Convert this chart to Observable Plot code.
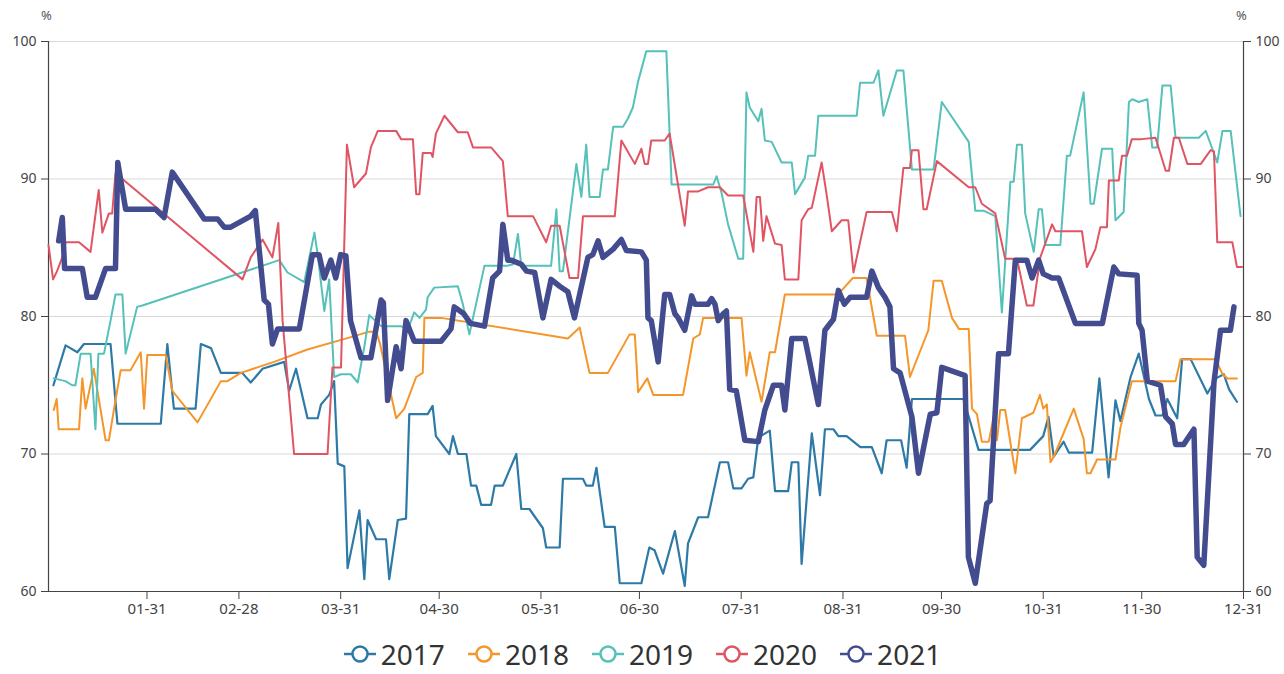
<!DOCTYPE html>
<html>
<head>
<meta charset="utf-8">
<script src="https://cdn.jsdelivr.net/npm/d3@7"></script>
<script src="https://cdn.jsdelivr.net/npm/@observablehq/plot@0.6"></script>
<style>
  html, body { margin: 0; padding: 0; background: #fff; }
  #wrap { position: relative; width: 1284px; height: 674px; font-family: "Noto Sans", "Open Sans", sans-serif; }
  .unit { position: absolute; top: 6px; font-size: 13px; color: #555; }
  #legend { position: absolute; left: 0; top: 635px; width: 1284px; height: 38px; display: flex; justify-content: center; align-items: center; gap: 22px; }
  .item { display: flex; align-items: center; gap: 4px; font-size: 28px; color: #333; line-height: 38px; height: 38px; }
  .item span { display: inline-block; line-height: 38px; }
</style>
</head>
<body>
<div id="wrap">
  <div class="unit" style="left:41px">%</div>
  <div class="unit" style="left:1236px">%</div>
  <div id="chart"></div>
  <div id="legend"></div>
</div>
<script>
// ---- data (day of year offset from Jan 1, value in %) ----
const years = ["2017", "2018", "2019", "2020", "2021"];
const colors = ["#2e7aa6", "#f5962a", "#56c1b9", "#e05564", "#434c8f"];
const tickLabels = ["01-31","02-28","03-31","04-30","05-31","06-30","07-31","08-31","09-30","10-31","11-30","12-31"];
const yTicks = [60, 70, 80, 90, 100];

const days2017 = [1.5,5.2,8.8,10.8,18.9,21,34.2,36.2,38.2,44.8,46.4,49.5,52.5,59,61.6,65.2,71.8,73.3,75.4,78.9,82,83,85.5,87,88.1,90.1,91.1,94.7,96.2,97.2,99.8,102.8,103.8,106.4,108.9,109.9,115.5,117,118,122.1,123.2,124.7,127.3,128.7,130.3,131.8,134.8,135.9,138.4,142.5,144,146.5,150.6,151.6,155.7,156.7,162.8,163.8,165.8,166.9,169.4,172.5,174,180.6,183,184.6,187.2,190.8,193.8,194.8,197.9,200.9,204.5,207,208.6,211.1,213.1,214.7,216.2,219.7,221.3,225.3,226.4,228.4,229.4,232.5,235,236.5,239.1,240.6,243.1,247.3,250.8,253.8,255.3,259.7,261.4,263,278.7,283.3,299,303,304.6,306.2,309.2,310.8,317.9,320.1,322.9,325,326.5,329.6,332.1,335.2,337.2,339.3,340.8,343.8,345.3,347.9,353,355.6,358,359.6,362];
const values2017 = [75.0,77.9,77.4,78.0,78.0,72.2,72.2,78.0,73.3,73.3,78.0,77.7,75.9,75.9,75.2,76.2,76.7,74.6,76.2,72.6,72.6,73.6,74.3,75.3,69.3,69.1,61.7,65.9,60.9,65.2,63.8,63.8,60.9,65.2,65.3,72.9,72.9,73.5,71.3,70.0,71.3,70.0,70.0,67.7,67.7,66.3,66.3,67.7,67.7,70.0,66.0,66.0,64.6,63.2,63.2,68.2,68.2,67.7,67.7,69.0,64.7,64.7,60.6,60.6,63.2,63.0,61.3,64.4,60.4,63.5,65.4,65.4,69.4,69.4,67.5,67.5,68.2,68.3,71.2,71.7,67.3,67.3,69.4,69.4,62.0,71.5,67.0,71.8,71.8,71.3,71.3,70.5,70.5,68.6,71.0,71.0,69.0,74.0,74.0,70.3,70.3,71.3,72.7,69.8,70.9,70.1,70.1,75.5,68.3,73.9,72.4,75.6,77.3,74.0,72.8,72.8,74.0,72.6,76.9,76.9,74.4,75.5,75.8,74.7,73.8];

const days2018 = [1.6,2.5,3.1,9.3,10.3,11.3,13.8,17.4,18.4,20.4,22,25,28.1,29.1,30.1,35.7,37.7,45.4,52.5,54.5,58.6,68.7,78.9,92.1,97.7,99.8,101,105.9,108.4,112,114,114.5,119.6,158.2,161.8,164.8,170.4,177,178.6,179.6,182.4,184.2,193.3,196.4,198.4,199.4,211.1,212.6,213.6,217.2,219.7,221.3,224.3,239.6,241.6,245,249.2,252.3,260.9,262.4,268,269.6,272.1,275.2,277.3,280.3,281.3,282.8,284.3,286.4,287.9,288.9,289.9,291.4,294.5,296.5,300,302,303,304.1,305.2,306.2,312.3,315.3,316.3,317.4,319.4,325,326.5,330,343.3,344.8,355.5,357.6,359.1,362];
const values2018 = [73.2,74.0,71.8,71.8,75.5,73.3,76.2,71.0,71.0,73.9,76.1,76.1,77.4,73.3,77.2,77.2,74.6,72.3,75.3,75.3,75.9,76.7,77.6,78.5,78.9,78.9,78.0,72.6,73.3,75.6,75.9,79.9,79.9,78.4,79.2,75.9,75.9,78.7,78.7,74.5,75.5,74.3,74.3,78.4,78.7,79.9,79.9,75.7,77.4,73.8,77.4,77.4,81.6,81.6,81.9,82.8,82.8,78.6,78.6,75.6,79.0,82.6,82.6,79.9,79.1,79.1,73.3,72.9,70.9,70.9,72.7,71.0,73.2,73.2,68.6,72.6,73.0,74.3,73.3,73.6,69.4,69.8,73.3,71.1,68.6,68.6,69.6,69.6,71.9,75.3,75.3,76.9,76.9,75.8,75.5,75.5];

const days2019 = [1.6,5.2,7.2,8.2,9.8,12.8,14.3,15.2,16.9,18.9,20.4,22.5,23.5,27,28.6,70.3,72.8,77.9,81,82,84,85.5,87,89.1,92.1,94.2,96.2,97.7,101.3,107.4,109.4,111.4,113,115,115.5,117.5,124.7,126.2,128.2,132.8,139.9,141.5,143,144,153.1,154.7,155.7,156.7,160.8,162.3,163.8,164.8,167.9,168.9,170.4,172,175,176.5,178,179.6,182.1,188.2,189.8,202.5,203.5,205,207,210.1,211.6,212.6,213.6,216.2,217.2,218.2,220.3,223.3,226.4,227.4,230.4,231.4,233.5,234.5,246.2,247.2,251.3,252.8,254.3,258.4,260.4,263,269.6,272.1,280.3,282.3,284.8,288.4,290.4,293,294,295,296.5,297.5,300.1,301.6,302.6,303.6,308.2,310.2,311.2,315.3,317.4,318.4,320.9,324,325,327.5,329.1,330.1,332.1,334.7,336.2,337.7,339.3,341.8,343.3,350.4,352.5,354.5,356,357.6,360.1,363.1];
const values2019 = [75.5,75.3,75.0,75.0,77.3,77.3,71.8,77.3,77.3,79.7,81.6,81.6,77.3,80.7,80.8,84.1,83.2,82.5,86.1,84.5,80.4,82.7,75.6,75.8,75.8,75.2,77.8,80.1,79.3,79.3,79.0,80.3,79.9,80.5,81.4,82.1,82.2,80.9,78.7,83.7,83.7,83.8,86.0,83.7,83.7,87.8,83.3,83.3,91.1,88.7,92.5,88.7,88.7,90.7,90.7,93.8,93.8,94.4,95.2,97.1,99.3,99.3,89.6,89.6,90.2,89.0,86.7,84.2,84.2,96.3,95.2,94.2,95.1,92.8,92.7,91.2,91.2,88.9,90.1,91.7,91.7,94.6,94.6,97.0,97.0,97.9,94.6,97.9,97.9,90.7,90.7,95.6,92.7,87.7,87.7,87.3,80.3,89.8,89.8,92.5,92.5,87.5,84.7,87.8,87.8,85.2,85.2,91.7,91.7,96.3,88.2,88.2,92.2,92.2,87.0,87.6,95.6,95.8,95.6,95.8,92.3,92.3,96.8,96.8,93.0,93.0,93.5,92.2,91.2,93.5,93.5,87.3];

const days2020 = [0,1.4,2.6,4.2,5.2,9.3,12.8,15.3,16.4,18.4,19.4,20.4,22.5,59.1,61.6,65.2,68.2,70,71.3,74.8,85,86.5,89.1,90.9,93.1,96.7,98.2,100.3,105.9,107.4,111,112,113,114,116.5,117,118,120.6,124.7,127.7,129.3,134.8,138.4,139.9,147.6,151.6,153.1,155.7,158.7,161.3,162.8,172.5,174.5,178.6,180.6,181.6,182.6,183.6,187.7,189.2,193.8,194.8,197.9,200.9,204.5,207,211.6,214.7,215.7,216.7,217.7,218.7,221.3,223.3,224.3,228.4,229.4,231.4,232.5,235.5,237,238.6,241.6,243.6,245.2,249.2,256.9,258.4,260.4,262.4,263,265,266.5,267.5,270.6,280.3,282.3,284.3,288.4,291.4,295,298,300,302.1,305.7,306.7,314.8,316.3,318.9,320.4,322.4,323,326,327,328.5,330,333,337.2,340.3,341.3,342.8,344.3,346.9,351,354,355,356,360.6,362,363.6];
const values2020 = [85.2,82.7,83.3,84.3,85.4,85.4,84.7,89.2,86.1,87.5,87.5,90.4,90.0,82.7,84.3,85.6,84.3,86.8,79.7,70.0,70.0,76.3,76.3,92.5,89.4,90.4,92.3,93.5,93.5,92.9,92.9,88.9,88.9,91.9,91.9,91.6,93.3,94.6,93.4,93.4,92.3,92.3,91.3,87.3,87.3,85.4,86.6,86.6,82.8,82.8,87.3,87.3,92.8,91.1,92.2,91.1,91.1,92.8,92.8,93.3,86.6,89.1,89.1,89.4,89.4,88.8,88.8,84.7,88.7,88.7,85.5,87.3,85.3,85.2,82.7,82.7,87.0,87.8,87.9,91.2,88.9,86.2,87.0,87.0,83.2,87.6,87.6,86.2,90.8,90.8,92.1,92.1,87.8,87.8,91.3,89.4,89.4,88.2,87.5,84.2,84.2,80.8,80.8,84.3,86.7,86.2,86.2,83.6,84.9,86.5,86.5,89.9,89.9,91.7,91.7,92.9,92.9,93.0,90.6,90.6,93.0,93.0,91.1,91.1,92.1,92.0,85.4,85.4,83.6,83.6];

const days2021 = [3.1,4.2,4.9,10.3,11.8,14.3,17.4,20.4,21.1,23.5,32.6,35.2,37.7,47.4,51.5,53.5,55.5,61.6,63,65.7,67,68.2,69.8,76.4,80.4,82.4,84,86,87.5,89,90.6,92,95.2,98.2,101.3,102,103.3,105.9,107.4,108.9,111.4,119.6,122.6,123.6,126.5,128.5,132.8,135.3,137.4,138.4,139.9,140.9,144,145.6,148.1,150.6,153.1,155.7,158.2,160.2,164.3,165.8,167.4,168.9,172,174.5,176,180.6,182.1,182.6,183.6,185.7,187.7,189.2,190.8,191.8,193.8,195.9,196.9,200.9,202,203,204,205.5,206.5,207.5,209.5,212.1,216.2,218.2,220.8,223.3,224.3,226.4,230.4,234.5,236.5,239.1,240.6,242.4,244.2,249.2,250.8,252.8,254.8,256.3,257.4,259.4,263,265,268.6,270.6,272.1,279.2,280.2,282.3,285.8,286.8,289.4,292.4,294.5,298,299.6,301.6,303,305.7,307.7,312.8,321,324.5,326,331.6,332.1,333.1,334.7,338.7,340.3,342.3,343.3,345.8,348.9,349.9,351.9,355,357,360,361.1];
const values2021 = [85.5,87.2,83.5,83.5,81.4,81.4,83.5,83.5,91.2,87.8,87.8,87.2,90.5,87.1,87.1,86.5,86.5,87.3,87.7,81.2,80.9,78.0,79.1,79.1,84.5,84.5,82.8,84.1,82.8,84.5,84.4,79.7,77.0,77.0,81.2,81.0,73.9,77.8,76.2,79.7,78.2,78.2,79.1,80.7,80.2,79.5,79.3,82.8,83.3,86.7,84.1,84.1,83.8,83.3,83.2,79.9,82.7,82.2,81.8,79.9,84.3,84.5,85.5,84.3,84.9,85.6,84.8,84.7,84.1,79.9,79.7,76.7,81.6,81.6,80.2,79.9,79.0,81.5,80.9,80.9,81.3,80.9,79.7,80.2,80.4,74.7,74.6,71.0,70.9,73.2,75.0,75.0,73.2,78.4,78.4,73.6,79.0,79.8,81.9,80.9,81.4,81.4,83.3,82.1,81.4,80.7,76.2,75.9,72.7,68.6,72.9,73.0,76.3,75.7,62.5,60.6,66.4,66.6,77.3,77.3,84.1,84.1,82.8,84.1,83.1,82.8,82.8,79.5,79.5,83.6,83.1,83.0,79.5,79.0,75.3,75.0,72.7,72.2,70.7,70.7,71.8,62.5,61.9,75.2,79.0,79.0,80.7];

// ---- build table ----
const seriesDays = [days2017, days2018, days2019, days2020, days2021];
const seriesValues = [values2017, values2018, values2019, values2020, values2021];
const t0 = new Date(2021, 0, 1).getTime();
const toDate = d => new Date(t0 + d * 864e5);
const parse = d3.timeParse("%Y-%m-%d");
const tickDates = tickLabels.map(s => parse("2021-" + s));
const xStart = toDate(0), xEnd = parse("2021-12-31");

const rows = [];
years.forEach((y, k) => seriesDays[k].forEach((d, i) => rows.push({year: y, date: toDate(d), value: seriesValues[k][i]})));

const font = "\"Noto Sans\", \"Open Sans\", sans-serif";
const lineMarks = years.map((y, k) => Plot.line(rows.filter(r => r.year === y), {
  x: "date", y: "value", stroke: colors[k],
  strokeWidth: y === "2021" ? 5.5 : (y === "2017" ? 2.2 : 2),
  strokeLinejoin: "round", curve: "linear"
}));

const chart = Plot.plot({
  width: 1284, height: 634,
  marginLeft: 48, marginRight: 41, marginTop: 41, marginBottom: 43,
  style: {fontFamily: font, fontSize: "14px", color: "#444", background: "#fff"},
  x: {type: "time", domain: [xStart, xEnd]},
  y: {domain: [60, 100]},
  marks: [
    Plot.gridY(yTicks.slice(1), {stroke: "#d9d9d9", strokeOpacity: 1}),
    Plot.ruleX([xStart], {stroke: "#444", strokeWidth: 1.2}),
    Plot.ruleX([xEnd], {stroke: "#444", strokeWidth: 1.2}),
    Plot.ruleY([60], {stroke: "#444", strokeWidth: 1.2}),
    Plot.axisY(yTicks, {anchor: "left", tickSize: 7, tickPadding: 5, label: null, fontSize: 14, stroke: "#444"}),
    Plot.axisY(yTicks, {anchor: "right", tickSize: 7, tickPadding: 5, label: null, fontSize: 14, stroke: "#444"}),
    Plot.axisX(tickDates, {anchor: "bottom", tickSize: 8, tickPadding: 4, tickFormat: d3.timeFormat("%m-%d"), label: null, fontSize: 15, stroke: "#444"}),
    ...lineMarks
  ]
});
document.getElementById("chart").appendChild(chart);

// ---- legend ----
const legend = document.getElementById("legend");
years.forEach((y, k) => {
  const item = document.createElement("div");
  item.className = "item";
  item.innerHTML = `<svg width="34" height="20"><line x1="1" y1="10" x2="33" y2="10" stroke="${colors[k]}" stroke-width="2.5"/><circle cx="17" cy="10" r="7.5" fill="#fff" stroke="${colors[k]}" stroke-width="2.5"/></svg><span>${y}</span>`;
  legend.appendChild(item);
});
</script>
</body>
</html>
